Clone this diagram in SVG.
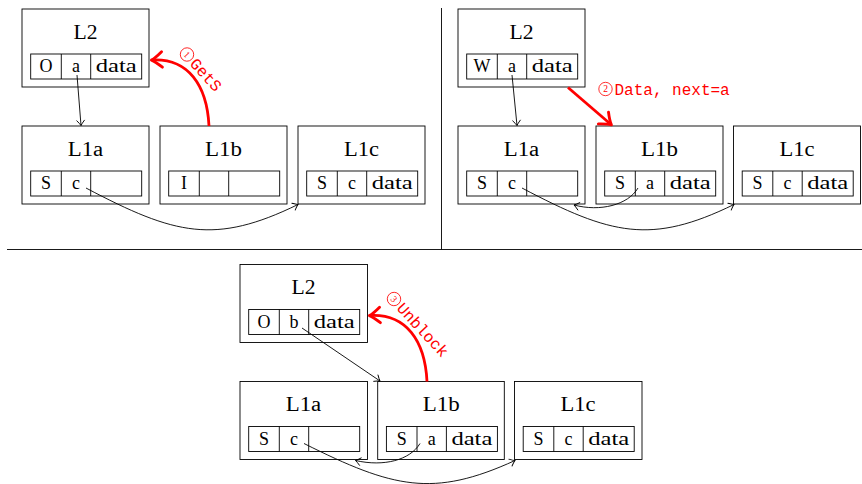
<svg xmlns="http://www.w3.org/2000/svg" width="862" height="484" viewBox="0 0 862 484">
<defs>
<style>
.bx{fill:#fff;stroke:#000;stroke-width:0.9}
.tb{fill:none;stroke:#000;stroke-width:0.9}
.ttl{font-family:"Liberation Serif",serif;font-size:20px;text-anchor:middle;fill:#000}
.cl{font-family:"Liberation Serif",serif;font-size:18px;text-anchor:middle;fill:#000}
.ln{fill:none;stroke:#000;stroke-width:0.9}
.rd{fill:none;stroke:#ff0000;stroke-width:2.8}
.lbl{font-family:"Liberation Mono",monospace;font-size:16px;fill:#ff0000}
.num{font-family:"Liberation Serif",serif;font-size:9.5px;fill:#ff0000;text-anchor:middle}
.circ{fill:none;stroke:#ff0000;stroke-width:0.8}
.sep{stroke:#000;stroke-width:0.9}
</style>
<marker id="ab" markerUnits="userSpaceOnUse" markerWidth="12" markerHeight="12" refX="0" refY="0" viewBox="-8 -6 10 12" orient="auto" overflow="visible">
<path d="M-5,-3.8 Q-1.8,-1 0,0 Q-1.8,1 -5,3.8" fill="none" stroke="#000" stroke-width="0.9" stroke-linecap="round"/>
</marker>
<marker id="ar" markerUnits="userSpaceOnUse" markerWidth="20" markerHeight="20" refX="0" refY="0" viewBox="-12 -9 14 18" orient="auto" overflow="visible">
<path d="M-9,-7 Q-3,-1.6 0.5,0 Q-3,1.6 -9,7" fill="none" stroke="#ff0000" stroke-width="2.6" stroke-linecap="round" stroke-linejoin="round"/>
</marker>
</defs>

<line class="sep" x1="441.5" y1="8" x2="441.5" y2="249.5"/>
<line class="sep" x1="7" y1="249.5" x2="862" y2="249.5"/>

<!-- Panel 1 -->
<g id="p1-L2" transform="translate(22,9)">
<rect class="bx" x="0" y="0" width="127" height="78"/>
<text class="ttl" x="63.5" y="29.7" textLength="24" lengthAdjust="spacingAndGlyphs">L2</text>
<rect class="tb" x="8.7" y="45" width="111" height="25"/>
<line class="tb" x1="39.3" y1="45" x2="39.3" y2="70"/><line class="tb" x1="68.7" y1="45" x2="68.7" y2="70"/>
<text class="cl" x="24" y="63">O</text><text class="cl" x="54" y="63">a</text><text class="cl" x="94.2" y="63" textLength="41" lengthAdjust="spacingAndGlyphs">data</text>
</g>
<g id="p1-L1a" transform="translate(22,126)">
<rect class="bx" x="0" y="0" width="127" height="78"/>
<text class="ttl" x="63.5" y="29.7" textLength="35.5" lengthAdjust="spacingAndGlyphs">L1a</text>
<rect class="tb" x="8.7" y="45" width="111" height="25"/>
<line class="tb" x1="39.3" y1="45" x2="39.3" y2="70"/><line class="tb" x1="68.7" y1="45" x2="68.7" y2="70"/>
<text class="cl" x="24" y="63">S</text><text class="cl" x="54" y="63">c</text>
</g>
<g id="p1-L1b" transform="translate(160,126)">
<rect class="bx" x="0" y="0" width="127" height="78"/>
<text class="ttl" x="63.5" y="29.7" textLength="37" lengthAdjust="spacingAndGlyphs">L1b</text>
<rect class="tb" x="8.7" y="45" width="111" height="25"/>
<line class="tb" x1="39.3" y1="45" x2="39.3" y2="70"/><line class="tb" x1="68.7" y1="45" x2="68.7" y2="70"/>
<text class="cl" x="24" y="63">I</text>
</g>
<g id="p1-L1c" transform="translate(298,126)">
<rect class="bx" x="0" y="0" width="127" height="78"/>
<text class="ttl" x="63.5" y="29.7" textLength="35" lengthAdjust="spacingAndGlyphs">L1c</text>
<rect class="tb" x="8.7" y="45" width="111" height="25"/>
<line class="tb" x1="39.3" y1="45" x2="39.3" y2="70"/><line class="tb" x1="68.7" y1="45" x2="68.7" y2="70"/>
<text class="cl" x="24" y="63">S</text><text class="cl" x="54" y="63">c</text><text class="cl" x="94.2" y="63" textLength="41" lengthAdjust="spacingAndGlyphs">data</text>
</g>

<!-- Panel 2 -->
<g id="p2-L2" transform="translate(458,9)">
<rect class="bx" x="0" y="0" width="127" height="78"/>
<text class="ttl" x="63.5" y="29.7" textLength="24" lengthAdjust="spacingAndGlyphs">L2</text>
<rect class="tb" x="8.7" y="45" width="111" height="25"/>
<line class="tb" x1="39.3" y1="45" x2="39.3" y2="70"/><line class="tb" x1="68.7" y1="45" x2="68.7" y2="70"/>
<text class="cl" x="24" y="63">W</text><text class="cl" x="54" y="63">a</text><text class="cl" x="94.2" y="63" textLength="41" lengthAdjust="spacingAndGlyphs">data</text>
</g>
<g id="p2-L1a" transform="translate(458,126)">
<rect class="bx" x="0" y="0" width="127" height="78"/>
<text class="ttl" x="63.5" y="29.7" textLength="35.5" lengthAdjust="spacingAndGlyphs">L1a</text>
<rect class="tb" x="8.7" y="45" width="111" height="25"/>
<line class="tb" x1="39.3" y1="45" x2="39.3" y2="70"/><line class="tb" x1="68.7" y1="45" x2="68.7" y2="70"/>
<text class="cl" x="24" y="63">S</text><text class="cl" x="54" y="63">c</text>
</g>
<g id="p2-L1b" transform="translate(596,126)">
<rect class="bx" x="0" y="0" width="127" height="78"/>
<text class="ttl" x="63.5" y="29.7" textLength="37" lengthAdjust="spacingAndGlyphs">L1b</text>
<rect class="tb" x="8.7" y="45" width="111" height="25"/>
<line class="tb" x1="39.3" y1="45" x2="39.3" y2="70"/><line class="tb" x1="68.7" y1="45" x2="68.7" y2="70"/>
<text class="cl" x="24" y="63">S</text><text class="cl" x="54" y="63">a</text><text class="cl" x="94.2" y="63" textLength="41" lengthAdjust="spacingAndGlyphs">data</text>
</g>
<g id="p2-L1c" transform="translate(733.5,126)">
<rect class="bx" x="0" y="0" width="127" height="78"/>
<text class="ttl" x="63.5" y="29.7" textLength="35" lengthAdjust="spacingAndGlyphs">L1c</text>
<rect class="tb" x="8.7" y="45" width="111" height="25"/>
<line class="tb" x1="39.3" y1="45" x2="39.3" y2="70"/><line class="tb" x1="68.7" y1="45" x2="68.7" y2="70"/>
<text class="cl" x="24" y="63">S</text><text class="cl" x="54" y="63">c</text><text class="cl" x="94.2" y="63" textLength="41" lengthAdjust="spacingAndGlyphs">data</text>
</g>

<!-- Panel 3 -->
<g id="p3-L2" transform="translate(240,264.5)">
<rect class="bx" x="0" y="0" width="127.5" height="78"/>
<text class="ttl" x="63.5" y="29.7" textLength="24" lengthAdjust="spacingAndGlyphs">L2</text>
<rect class="tb" x="8.7" y="45" width="111" height="25"/>
<line class="tb" x1="39.3" y1="45" x2="39.3" y2="70"/><line class="tb" x1="68.7" y1="45" x2="68.7" y2="70"/>
<text class="cl" x="24" y="63">O</text><text class="cl" x="54" y="63">b</text><text class="cl" x="94.2" y="63" textLength="41" lengthAdjust="spacingAndGlyphs">data</text>
</g>
<g id="p3-L1a" transform="translate(240,381.5)">
<rect class="bx" x="0" y="0" width="127.5" height="78"/>
<text class="ttl" x="63.5" y="29.7" textLength="35.5" lengthAdjust="spacingAndGlyphs">L1a</text>
<rect class="tb" x="8.7" y="45" width="111" height="25"/>
<line class="tb" x1="39.3" y1="45" x2="39.3" y2="70"/><line class="tb" x1="68.7" y1="45" x2="68.7" y2="70"/>
<text class="cl" x="24" y="63">S</text><text class="cl" x="54" y="63">c</text>
</g>
<g id="p3-L1b" transform="translate(377.7,381.5)">
<rect class="bx" x="0" y="0" width="126.6" height="78"/>
<text class="ttl" x="63.5" y="29.7" textLength="37" lengthAdjust="spacingAndGlyphs">L1b</text>
<rect class="tb" x="8.7" y="45" width="111" height="25"/>
<line class="tb" x1="39.3" y1="45" x2="39.3" y2="70"/><line class="tb" x1="68.7" y1="45" x2="68.7" y2="70"/>
<text class="cl" x="24" y="63">S</text><text class="cl" x="54" y="63">a</text><text class="cl" x="94.2" y="63" textLength="41" lengthAdjust="spacingAndGlyphs">data</text>
</g>
<g id="p3-L1c" transform="translate(514.5,381.5)">
<rect class="bx" x="0" y="0" width="127.5" height="78"/>
<text class="ttl" x="63.5" y="29.7" textLength="35" lengthAdjust="spacingAndGlyphs">L1c</text>
<rect class="tb" x="8.7" y="45" width="111" height="25"/>
<line class="tb" x1="39.3" y1="45" x2="39.3" y2="70"/><line class="tb" x1="68.7" y1="45" x2="68.7" y2="70"/>
<text class="cl" x="24" y="63">S</text><text class="cl" x="54" y="63">c</text><text class="cl" x="94.2" y="63" textLength="41" lengthAdjust="spacingAndGlyphs">data</text>
</g>

<g id="connectors">
<!-- panel 1 -->
<path class="ln" d="M77,75 L81,125.5" marker-end="url(#ab)"/>
<path class="ln" d="M86,188 C175,235 215,245 298,204.5" marker-end="url(#ab)"/>
<path class="rd" d="M209,126 C207,85 188,58 152,60" marker-end="url(#ar)"/>
<!-- panel 2 -->
<path class="ln" d="M512,75 L517,125.5" marker-end="url(#ab)"/>
<path class="ln" d="M522,188 C611,235 651,245 734,204.5" marker-end="url(#ab)"/>
<path class="ln" d="M638,188 C628,205 600,212 574,205" marker-end="url(#ab)"/>
<path class="rd" d="M568,87.5 L611,124.5" marker-end="url(#ar)"/>
<!-- panel 3 -->
<path class="ln" d="M302,328 L380,381" marker-end="url(#ab)"/>
<path class="ln" d="M304,443.5 C393,488 433,498 515,460.5" marker-end="url(#ab)"/>
<path class="ln" d="M420,443.5 C410,460 384,467 355.5,460.5" marker-end="url(#ab)"/>
<path class="rd" d="M427,381.5 C425,340.5 406,313.5 370,315.5" marker-end="url(#ar)"/>
</g>

<g id="labels">
<g transform="translate(187,54.5) rotate(47)">
<circle class="circ" cx="0" cy="0" r="6.7"/>
<text class="num" x="0" y="3.3">1</text>
<text class="lbl" x="8.5" y="5.3">GetS</text>
</g>
<g transform="translate(605.5,89)">
<circle class="circ" cx="0" cy="0" r="6.7"/>
<text class="num" x="0" y="3.3">2</text>
<text class="lbl" x="9" y="6.2">Data, next=a</text>
</g>
<g transform="translate(394,299) rotate(47)">
<circle class="circ" cx="0" cy="0" r="6.7"/>
<text class="num" x="0" y="3.3">3</text>
<text class="lbl" x="8.5" y="5.3">Unblock</text>
</g>
</g>
</svg>
